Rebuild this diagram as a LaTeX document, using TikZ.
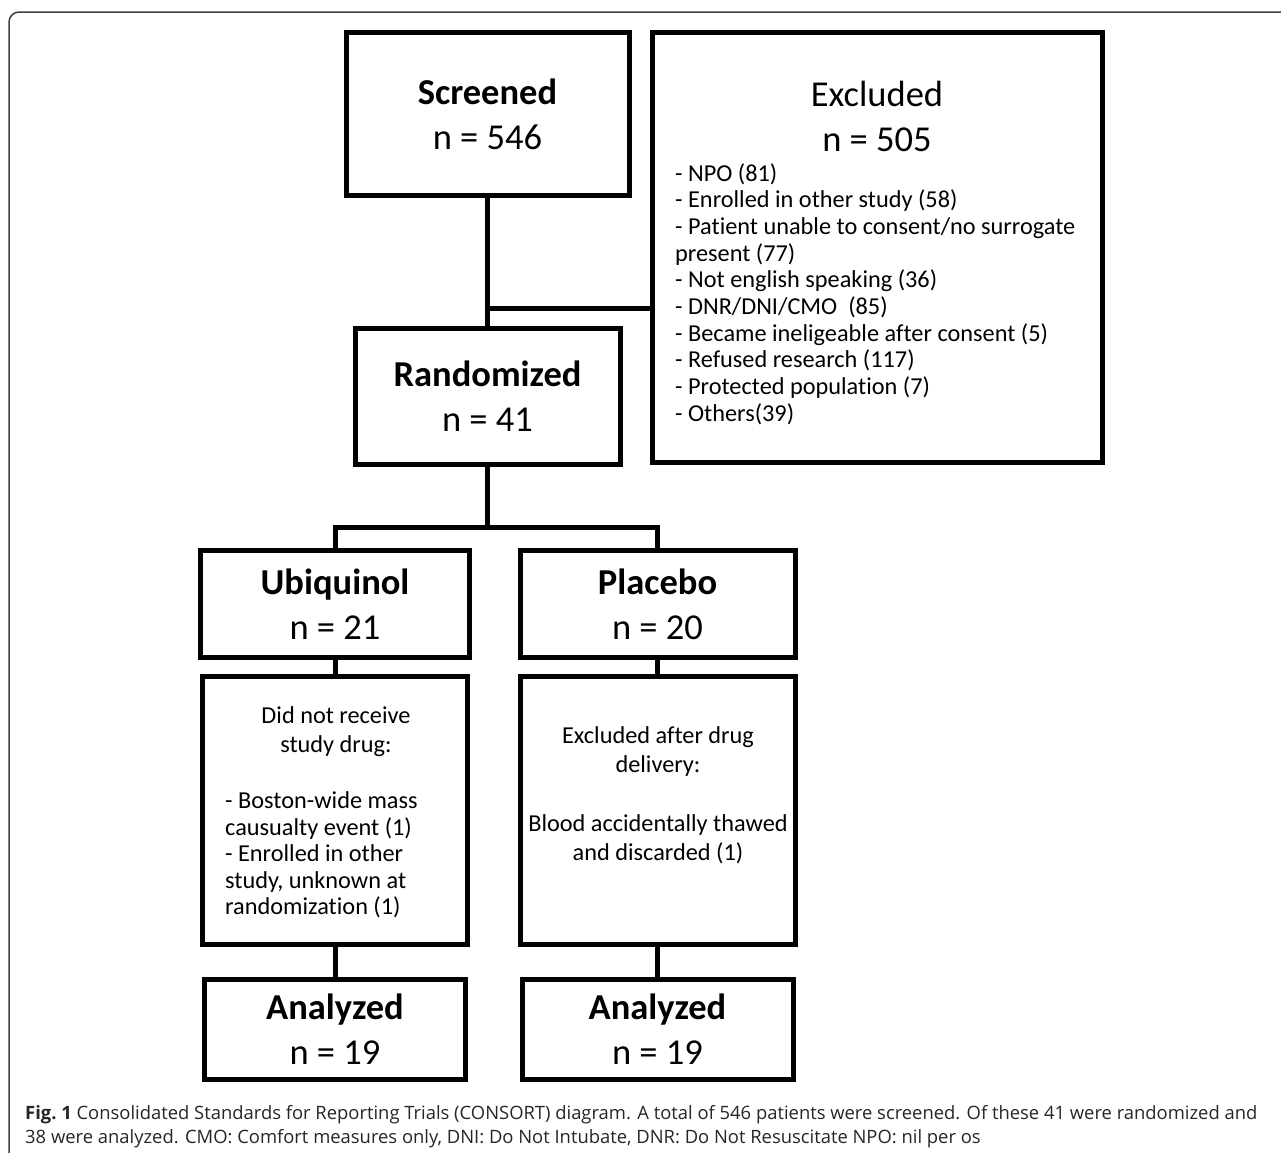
\documentclass[tikz,border=0pt]{standalone}
\usepackage{fontspec}
\setmainfont[RawFeature=-liga]{Carlito}
\newfontfamily\capfont{Open Sans}
\begin{document}
\begin{tikzpicture}[x=1pt,y=-1pt,
  box/.style={draw=black, line width=5pt, rectangle, inner sep=0pt, fill=white},
  conn/.style={draw=black, line width=5pt},
  big/.style={font=\fontsize{36.5}{45}\selectfont, align=center},
  lst/.style={font=\fontsize{24.3}{26.7}\selectfont, align=left, inner sep=0pt},
  sub/.style={font=\fontsize{24.3}{29}\selectfont, align=center, inner sep=0pt},
  subl/.style={font=\fontsize{24.3}{26.5}\selectfont, align=left, inner sep=0pt},
  captxt/.style={font=\capfont\fontsize{18.4}{24}\selectfont, color=black!85, inner sep=0pt, anchor=base west}
]
\useasboundingbox (0,0) rectangle (1281,1152);
\fill[white] (0,0) rectangle (1281,1152);
% outer frame
\draw[black!75, line width=1.5pt, rounded corners=10pt] (1290,12) -- (9,12) -- (9,1160);

% boxes
\node[box, minimum width=283, minimum height=163] (scr) at (487.5,114) {};
\node[box, minimum width=450, minimum height=430] (exc) at (877.5,247.5) {};
\node[box, minimum width=265, minimum height=136] (rnd) at (487.5,396.5) {};
\node[box, minimum width=269, minimum height=107] (ubq) at (335,604) {};
\node[box, minimum width=275, minimum height=107] (plc) at (657.5,604) {};
\node[box, minimum width=265, minimum height=268] (ubx) at (335,810.5) {};
\node[box, minimum width=275, minimum height=268] (plx) at (657.5,810.5) {};
\node[box, minimum width=261, minimum height=100] (uba) at (335,1029.5) {};
\node[box, minimum width=271, minimum height=100] (pla) at (657.5,1029.5) {};

% texts
\node[big] (scrt) at (scr.center) {\textbf{Screened}\\n = 546};
\node[big] (exct) at (877,116.5) {Excluded\\n = 505};
\node[lst, anchor=west] (excl) at (675,294) {- NPO (81)\\- Enrolled in other study (58)\\- Patient unable to consent/no surrogate\\present (77)\\- Not english speaking (36)\\- DNR/DNI/CMO\ \ (85)\\- Became ineligeable after consent (5)\\- Refused research (117)\\- Protected population (7)\\- Others(39)};
\node[big] (rndt) at (rnd.center) {\textbf{Randomized}\\n = 41};
\node[big] (ubqt) at (ubq.center) {\textbf{Ubiquinol}\\n = 21};
\node[big] (plct) at (plc.center) {\textbf{Placebo}\\n = 20};
\node[sub] (ubxh) at (336,731.5) {Did not receive\\study drug:};
\node[subl, anchor=west] (ubxl) at (225,855) {- Boston-wide mass\\causualty event (1)\\- Enrolled in other\\study, unknown at\\randomization (1)};
\node[sub] (plxh) at (658,752) {Excluded after drug\\delivery:};
\node[sub] (plxl) at (658,839) {Blood accidentally thawed\\and discarded (1)};
\node[big] (ubat) at (uba.center) {\textbf{Analyzed}\\n = 19};
\node[big] (plat) at (pla.center) {\textbf{Analyzed}\\n = 19};

% connectors
\coordinate (j1) at (487.5,308);
\coordinate (j2) at (487.5,527);
\draw[conn] (scr.south) -- (rnd.north);
\draw[conn] (j1) -- (j1 -| exc.west);
\draw[conn] (rnd.south) -- (j2);
\draw[conn, line join=miter] (ubq.north) -- (ubq.north |- j2) -- (plc.north |- j2) -- (plc.north);
\draw[conn] (ubq.south) -- (ubx.north);
\draw[conn] (plc.south) -- (plx.north);
\draw[conn] (ubx.south) -- (uba.north);
\draw[conn] (plx.south) -- (pla.north);

% caption
\node[captxt] (cap1) at (25,1119) {\textbf{Fig.\ 1} Consolidated Standards for Reporting Trials (CONSORT) diagram. A total of 546 patients were screened. Of these 41 were randomized and};
\node[captxt] (cap2) at (25,1143) {38 were analyzed. CMO: Comfort measures only, DNI: Do Not Intubate, DNR: Do Not Resuscitate NPO: nil per os};
\end{tikzpicture}
\end{document}
